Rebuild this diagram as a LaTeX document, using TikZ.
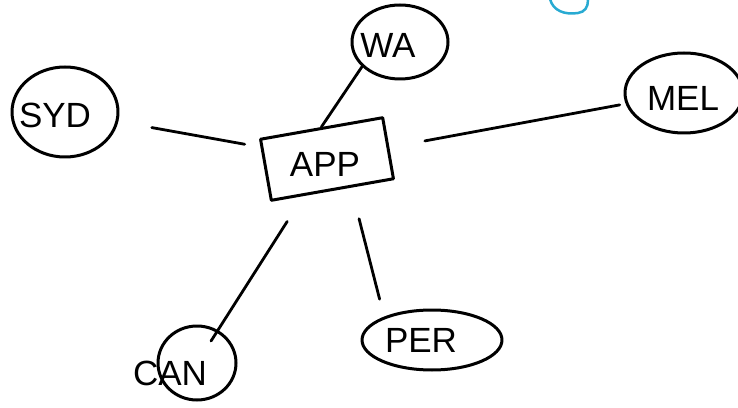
\documentclass[tikz,border=0pt]{standalone}
\usepackage{fontspec}
\setmainfont{Liberation Sans}
\usetikzlibrary{shapes.geometric}
\definecolor{penblue}{RGB}{40,170,210}
\tikzset{
  ink/.style={line width=3pt, draw=black, line cap=round, line join=round},
  city/.style={ink, ellipse, inner sep=0pt},
  lbl/.style={font=\fontsize{35}{37}\selectfont, inner sep=0pt},
  link/.style={ink, line width=2.8pt}
}
\begin{document}
\begin{tikzpicture}[x=1pt,y=1pt]
\useasboundingbox (0,0) rectangle (738,407);
\fill[white] (0,0) rectangle (738,407);

% nodes
\node[ink, draw, rectangle, rotate=10, minimum width=124pt, minimum height=62pt, inner sep=0pt] (app) at (327,248) {};
\node[lbl] (apptext) at (325,243) {APP};

\node[city, minimum width=106pt, minimum height=90pt] (syd) at (65,295) {};
\node[lbl] (sydtext) at (55,292) {SYD};

\node[city, minimum width=96pt, minimum height=74pt] (wa) at (400,365) {};
\node[lbl] (watext) at (388,362) {WA};

\node[city, minimum width=118pt, minimum height=80pt] (mel) at (684,314) {};
\node[lbl] (meltext) at (683,309) {MEL};

\node[city, minimum width=78pt, minimum height=74pt] (can) at (197,44) {};
\node[lbl] (cantext) at (170,34) {CAN};

\node[city, minimum width=140pt, minimum height=60pt] (per) at (432,67) {};
\node[lbl] (pertext) at (421,67) {PER};

% connectors
\draw[link, shorten <=34pt, shorten >=16pt] (syd) -- (app);
\draw[link] (app.north) -- (wa.213);
\draw[link, shorten <=36pt, shorten >=6pt] (app) -- (mel);
\draw[link, shorten <=30pt, shorten >=-13pt] (app) -- (can);
\draw[link, shorten <=32pt, shorten >=18pt] (app.-60) -- (per.154);

% stray blue pen stroke at the top
\draw[line width=2.5pt, draw=penblue, line cap=round]
  (550,408) .. controls (553,396) and (565,392) .. (578,394)
  .. controls (585,395) and (588,400) .. (588,407);
\end{tikzpicture}
\end{document}
